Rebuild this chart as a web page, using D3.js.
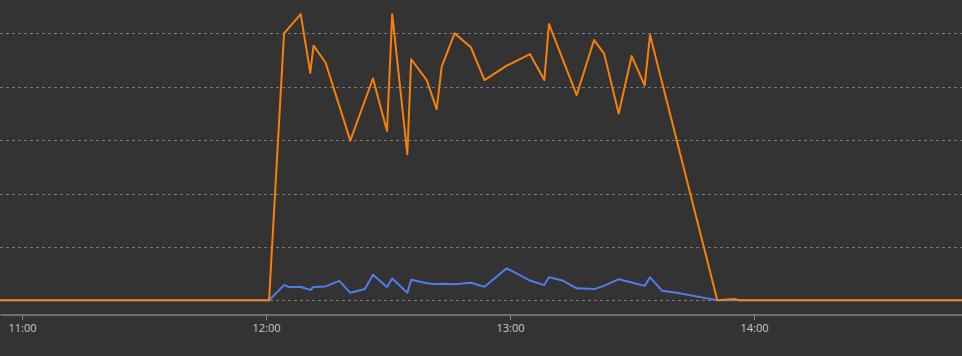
<!DOCTYPE html>
<html>
<head>
<meta charset="utf-8">
<script src="https://cdn.jsdelivr.net/npm/d3@7"></script>
<style>
  html, body { margin: 0; padding: 0; background: #333333; }
  svg { display: block; }
</style>
</head>
<body>
<svg id="chart" width="962" height="356"></svg>
<script>
// Timestamps (HH:MM:SS) shared by both series
const times = [
  "10:50:00","12:00:45","12:04:26","12:05:40","12:08:32","12:10:53","12:11:41","12:14:38",
  "12:18:01","12:20:44","12:24:20","12:26:18","12:29:45","12:31:02","12:34:45","12:35:42",
  "12:39:31","12:41:58","12:43:12","12:46:23","12:50:22","12:53:44","12:59:11","13:04:55",
  "13:08:26","13:09:35","13:12:58","13:16:24","13:20:40","13:23:07","13:26:44","13:29:55",
  "13:33:07","13:34:26","13:37:23","13:41:48","13:50:59","13:55:05","13:56:30","14:55:00"
];
// Orange series (null = no sample at that timestamp)
const seriesOrange = [
  0, 0, 100, null, 107.2, 85.2, 95.4, 89.1,
  null, 59.8, null, 83.1, 63.4, 107.2, 54.7, 90.3,
  82.5, 71.6, 87.5, 100, 94.8, 82.5, 87.9, 92.2,
  82.5, 103.5, null, 76.9, 97.5, 92.5, 70.0, 91.5,
  80.5, 99.4, null, null, 0, 0.5, 0, 0
];
// Blue series
const seriesBlue = [
  0, 0, 5.7, 5.0, 5.0, 3.9, 5.0, 5.2,
  7.3, 2.8, 4.2, 9.6, 5.0, 8.2, 2.8, 7.7,
  6.4, 6.0, 6.2, 6.0, 6.6, 5.1, 12.0, 7.4,
  5.7, 8.6, 7.4, 4.5, 4.2, 5.4, 7.9, 6.7,
  5.4, 8.6, 3.6, 2.6, 0, 0, 0, 0
];
const tickLabels = ["11:00", "12:00", "13:00", "14:00"];
const gridValues = [0, 20, 40, 60, 80, 100];
const xDomain = ["10:54:35", "14:51:09"];
const yDomain = [0, 112.5];

const parse = s => { const [h, m, sec] = s.split(":").map(Number); return new Date(2024, 0, 1, h, m, sec || 0); };

const W = 962, H = 356;
const svg = d3.select("#chart");

const x = d3.scaleTime().domain(xDomain.map(parse)).range([0, W]);
const y = d3.scaleLinear().domain(yDomain).range([300.3, 0]);

// background
svg.append("rect").attr("width", W).attr("height", H).attr("fill", "#333333");

// gridlines
svg.append("g").selectAll("line").data(gridValues).join("line")
  .attr("x1", 0).attr("x2", W)
  .attr("y1", d => Math.round(y(d)) + 0.5).attr("y2", d => Math.round(y(d)) + 0.5)
  .attr("stroke", "#7a7a7a").attr("stroke-width", 1).attr("stroke-dasharray", "3,3");

// clip
svg.append("clipPath").attr("id", "clip").append("rect").attr("x", 0).attr("y", 0).attr("width", W).attr("height", 306);

const line = d3.line().x(d => x(d.t)).y(d => y(d.v));
const mk = vals => times.map((t, i) => ({ t: parse(t), v: vals[i] })).filter(d => d.v !== null);

const plot = svg.append("g").attr("clip-path", "url(#clip)");
plot.append("path").datum(mk(seriesBlue)).attr("d", line)
  .attr("fill", "none").attr("stroke", "#507deb").attr("stroke-width", 2).attr("stroke-linejoin", "round");
plot.append("path").datum(mk(seriesOrange)).attr("d", line)
  .attr("fill", "none").attr("stroke", "#f7800a").attr("stroke-width", 2).attr("stroke-linejoin", "round");

// x axis
const axis = d3.axisBottom(x)
  .tickValues(tickLabels.map(s => parse(s + ":00")))
  .tickFormat(d3.timeFormat("%H:%M"))
  .tickSizeInner(4).tickSizeOuter(0).tickPadding(6);
const gx = svg.append("g").attr("transform", "translate(0,314.5)").call(axis);
gx.select(".domain").attr("stroke", "#6e6e6e").attr("stroke-width", 2);
gx.selectAll(".tick line").attr("stroke", "#8a8a8a").attr("transform", "translate(0,1.5)");
gx.selectAll(".tick text").attr("fill", "#c8c8c8")
  .style("font-family", "'Open Sans', 'Noto Sans', sans-serif").style("font-size", "11px");
</script>
</body>
</html>
